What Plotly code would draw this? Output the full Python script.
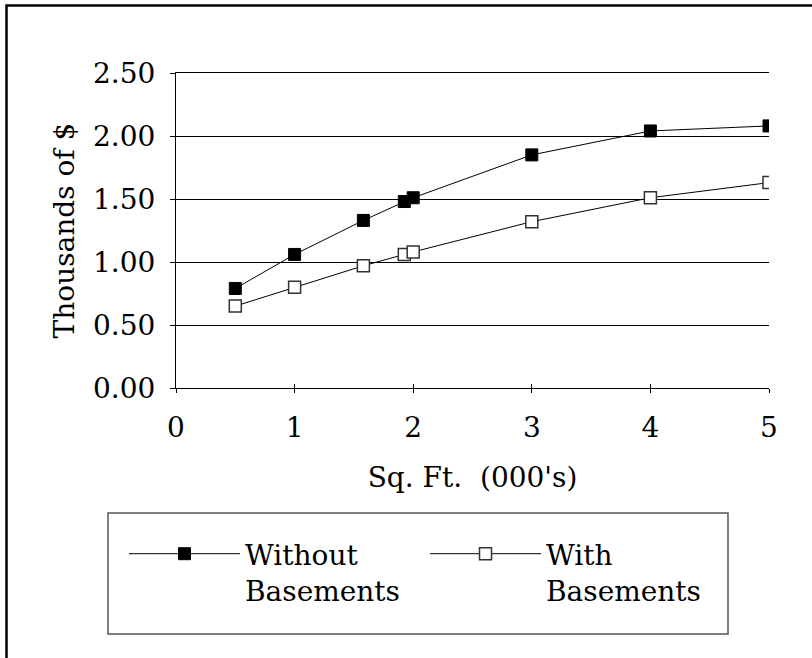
import plotly.graph_objects as go

# Data
sqft = [0.5, 1, 1.58, 1.925, 2, 3, 4, 5]
without_basements = [0.79, 1.06, 1.33, 1.48, 1.51, 1.85, 2.04, 2.08]
with_basements = [0.65, 0.80, 0.97, 1.06, 1.08, 1.32, 1.51, 1.63]
x_ticks = [0, 1, 2, 3, 4, 5]
y_ticks = [0, 0.5, 1.0, 1.5, 2.0, 2.5]
y_tick_labels = ["0.00", "0.50", "1.00", "1.50", "2.00", "2.50"]

FONT = "DejaVu Serif"
FS = 28

fig = go.Figure()
fig.add_trace(go.Scatter(
    x=sqft, y=without_basements, mode="lines+markers",
    name="Without<br>Basements",
    line=dict(color="black", width=1),
    marker=dict(symbol="square", size=12, color="black",
                line=dict(color="black", width=1)),
))
fig.add_trace(go.Scatter(
    x=sqft, y=with_basements, mode="lines+markers",
    name="With<br>Basements",
    line=dict(color="black", width=1),
    marker=dict(symbol="square", size=12, color="white",
                line=dict(color="#333333", width=1.5)),
))

fig.update_layout(
    width=812, height=658,
    margin=dict(l=176, r=43, t=73, b=270, autoexpand=False),
    paper_bgcolor="white", plot_bgcolor="white",
    font=dict(family=FONT, size=FS, color="black"),
    showlegend=True,
    legend=dict(orientation="h", x=(124 - 176) / 593, y=(388 - 529) / 315,
                xanchor="left", yanchor="top", valign="top",
                bgcolor="rgba(0,0,0,0)", borderwidth=0,
                entrywidth=175, itemwidth=111,
                font=dict(family=FONT, size=FS)),
    xaxis=dict(range=[0, 5], tickvals=x_ticks, ticktext=[str(v) for v in x_ticks],
               showgrid=False, zeroline=False, showline=True, mirror=True,
               linecolor="black", linewidth=1,
               ticks="outside", ticklen=4, tickcolor="black", ticklabelstandoff=10,
               title=dict(text="Sq. Ft.  (000's)", standoff=24, font=dict(size=FS))),
    yaxis=dict(range=[0, 2.5], tickvals=y_ticks, ticktext=y_tick_labels,
               showgrid=True, gridcolor="black", gridwidth=1,
               zeroline=False, showline=True, linecolor="black", linewidth=1,
               ticks="outside", ticklen=5, tickcolor="black", ticklabelstandoff=9,
               title=dict(text="Thousands of $", standoff=10, font=dict(size=FS))),
    xaxis2=dict(range=[0, 5], tickvals=x_ticks, overlaying="x", side="bottom",
                showticklabels=False, showgrid=False, zeroline=False, showline=False,
                ticks="inside", ticklen=4, tickcolor="black"),
    shapes=[
        dict(type="rect", xref="paper", yref="paper",
             x0=(108 - 176) / 593, x1=(728 - 176) / 593,
             y0=(388 - 634) / 315, y1=(388 - 513) / 315,
             line=dict(color="#555555", width=1.5), fillcolor="rgba(0,0,0,0)"),
        dict(type="rect", xref="paper", yref="paper",
             x0=(6.5 - 176) / 593, x1=(820 - 176) / 593,
             y0=(388 - 670) / 315, y1=(388 - 5.5) / 315,
             line=dict(color="black", width=2.5), fillcolor="rgba(0,0,0,0)"),
    ],
)
# invisible trace to activate the secondary tick axis
fig.add_trace(go.Scatter(x=[0], y=[0], xaxis="x2", mode="markers",
                         marker=dict(opacity=0), showlegend=False, hoverinfo="skip"))

fig.write_html("out.html")
